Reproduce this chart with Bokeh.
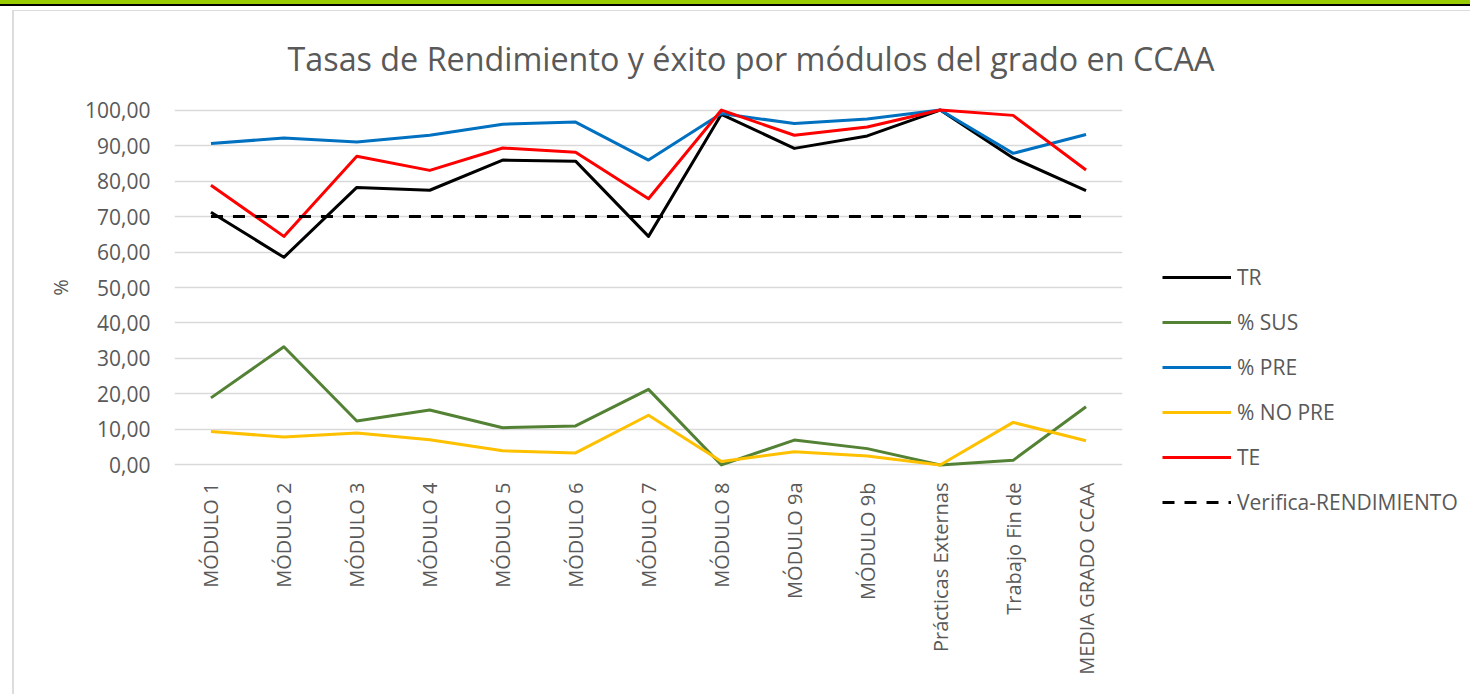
import math
from bokeh.plotting import figure
from bokeh.models import Legend, LegendItem, Title, FixedTicker, Range1d, Div
from bokeh.layouts import column
from bokeh.embed import file_html
from bokeh.resources import INLINE

categories = ["MÓDULO 1", "MÓDULO 2", "MÓDULO 3", "MÓDULO 4", "MÓDULO 5", "MÓDULO 6",
              "MÓDULO 7", "MÓDULO 8", "MÓDULO 9a", "MÓDULO 9b", "Prácticas Externas",
              "Trabajo Fin de", "MEDIA GRADO CCAA"]
tr = [71.2, 58.5, 78.2, 77.4, 85.9, 85.6, 64.4, 98.8, 89.2, 92.7, 100.0, 86.5, 77.3]
sus = [18.9, 33.3, 12.4, 15.5, 10.5, 11.0, 21.3, 0.0, 7.0, 4.6, 0.0, 1.3, 16.4]
pre = [90.6, 92.1, 91.0, 92.9, 96.0, 96.6, 85.9, 99.0, 96.2, 97.5, 100.0, 87.8, 93.1]
no_pre = [9.4, 7.9, 9.0, 7.1, 4.0, 3.4, 14.0, 1.0, 3.7, 2.5, 0.0, 12.0, 6.8]
te = [78.8, 64.4, 87.0, 83.0, 89.3, 88.1, 75.0, 100.0, 92.9, 95.2, 100.0, 98.5, 83.1]
verifica = [70, 70, 70, 70, 70, 70, 70, 70, 70, 70, 70, 70, 70]
y_ticks = [0, 10, 20, 30, 40, 50, 60, 70, 80, 90, 100]
y_tick_labels = ["0,00", "10,00", "20,00", "30,00", "40,00", "50,00", "60,00",
                 "70,00", "80,00", "90,00", "100,00"]
title_text = "Tasas de Rendimiento y éxito por módulos del grado en CCAA"

FONT = "Open Sans"
TXT = "#595959"

p = figure(x_range=categories, y_range=Range1d(-1, 101), width=1458, height=684,
           output_backend="svg", toolbar_location=None,
           min_border_left=160, min_border_right=350, min_border_top=94,
           min_border_bottom=229, frame_width=946, frame_height=361)
p.outline_line_color = None
p.background_fill_color = "white"
p.border_fill_color = "white"
p.margin = (4, 0, 0, 12)
p.styles = {"border-left": "2px solid #dcdcdc", "border-top": "1px solid #dcdcdc"}

p.title = Title(text=title_text, align="left", offset=113, standoff=49,
                vertical_align="top",
                text_font=FONT, text_font_size="32.3px", text_font_style="normal",
                text_color=TXT)

series = [
    ("TR", tr, "black", None),
    ("% SUS", sus, "#548235", None),
    ("% PRE", pre, "#0070C0", None),
    ("% NO PRE", no_pre, "#FFC000", None),
    ("TE", te, "#FF0000", None),
    ("Verifica-RENDIMIENTO", verifica, "black", "12 10"),
]
items = []
for name, vals, col, dash in series:
    kw = {}
    if dash:
        kw["line_dash"] = dash
    r = p.line(x=categories, y=vals, line_color=col, line_width=3, line_join="round", **kw)
    items.append(LegendItem(label=name, renderers=[r]))

p.yaxis.ticker = FixedTicker(ticks=y_ticks)
p.yaxis.major_label_overrides = {t: l for t, l in zip(y_ticks, y_tick_labels)}
p.yaxis.axis_line_color = None
p.yaxis.major_tick_line_color = None
p.yaxis.minor_tick_line_color = None
p.yaxis.major_label_standoff = 18
p.yaxis.major_label_text_font = FONT
p.yaxis.major_label_text_font_size = "21px"
p.yaxis.major_label_text_color = TXT
p.yaxis.axis_label = "%"
p.yaxis.axis_label_text_font = FONT
p.yaxis.axis_label_text_font_size = "20px"
p.yaxis.axis_label_text_font_style = "normal"
p.yaxis.axis_label_text_color = TXT
p.yaxis.axis_label_standoff = 8

p.xaxis.axis_line_color = None
p.xaxis.major_tick_line_color = None
p.xaxis.minor_tick_line_color = None
p.xaxis.major_label_orientation = math.pi / 2
p.xaxis.major_label_standoff = 8
p.xaxis.major_label_text_font = FONT
p.xaxis.major_label_text_font_size = "20px"
p.xaxis.major_label_text_color = TXT

p.xgrid.grid_line_color = None
p.ygrid.grid_line_color = "#d9d9d9"
p.ygrid.grid_line_width = 1.5

legend = Legend(items=items, location=(40, -48), orientation="vertical",
                glyph_width=69, glyph_height=20, label_height=20, spacing=17,
                label_standoff=6, padding=0, margin=0, border_line_color=None,
                background_fill_alpha=0, label_text_font=FONT,
                label_text_font_size="21px", label_text_color=TXT)
p.add_layout(legend, "right")

band = Div(text="", width=1470, height=6, margin=0,
           styles={"background": "linear-gradient(to bottom, #99CC00 0px, #99CC00 4px, #000000 4px, #000000 6px)"})

layout = column(band, p, spacing=0)
open("out.html", "w").write(file_html(layout, INLINE))
